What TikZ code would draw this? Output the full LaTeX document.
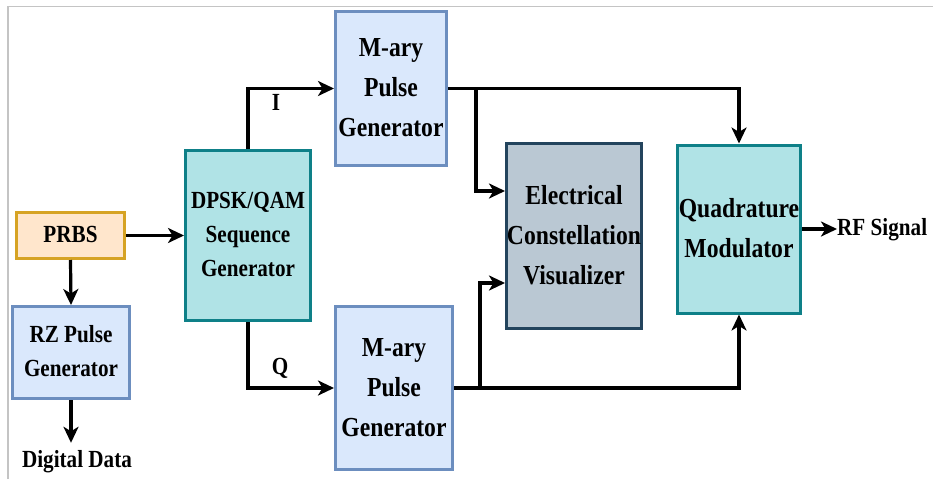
\documentclass[tikz,border=0pt]{standalone}
\usepackage{fontspec}
\usepackage{graphicx}
\setmainfont{Liberation Serif}
\usetikzlibrary{arrows.meta}
\definecolor{orfill}{HTML}{FFE6CC}
\definecolor{ordraw}{HTML}{D6A324}
\definecolor{blfill}{HTML}{DAE8FC}
\definecolor{bldraw}{HTML}{6C8EBF}
\definecolor{tefill}{HTML}{B0E3E6}
\definecolor{tedraw}{HTML}{0E8088}
\definecolor{grfill}{HTML}{BAC8D3}
\definecolor{grdraw}{HTML}{23445D}
\definecolor{framec}{HTML}{C4C4C4}
\newcommand{\sqz}[1]{\scalebox{0.86}[1]{\begin{tabular}{@{}c@{}}#1\end{tabular}}}
\begin{document}
\begin{tikzpicture}[x=1pt,y=-1pt,
  box/.style={draw, line width=3pt, rectangle, align=center, inner sep=0pt},
  bigtext/.style={font=\fontsize{27.5}{40}\selectfont\bfseries},
  smalltext/.style={font=\fontsize{24.6}{34}\selectfont\bfseries},
  arr/.style={line width=3.2pt, -{Stealth[length=16pt,width=15pt,inset=4.5pt]}},
  conn/.style={line width=3pt}]
\useasboundingbox (0,0) rectangle (933,479);
\fill[white] (0,0) rectangle (933,479);
\draw[framec, line width=1.5pt] (8,479) -- (8,6.5) -- (933,6.5);

\node[box, smalltext, fill=orfill, draw=ordraw, minimum width=108pt, minimum height=46pt] (prbs) at (70.5,235.5) {\sqz{PRBS}};
\node[box, smalltext, fill=blfill, draw=bldraw, minimum width=117pt, minimum height=92pt] (rz) at (71,352.5) {\sqz{RZ Pulse\\Generator}};
\node[smalltext, inner sep=1pt] (dd) at (77,461) {\sqz{Digital Data}};
\node[box, smalltext, fill=tefill, draw=tedraw, minimum width=125pt, minimum height=170pt] (dpsk) at (248,235.5) {\sqz{DPSK/QAM\\Sequence\\Generator}};
\node[box, bigtext, fill=blfill, draw=bldraw, minimum width=111pt, minimum height=154pt] (m1) at (391,88.5) {\sqz{M-ary\\Pulse\\Generator}};
\node[box, bigtext, fill=blfill, draw=bldraw, minimum width=117pt, minimum height=163pt] (m2) at (394,388) {\sqz{M-ary\\Pulse\\Generator}};
\node[box, bigtext, fill=grfill, draw=grdraw, minimum width=135pt, minimum height=185pt] (ecv) at (574,236) {\sqz{Electrical\\Constellation\\Visualizer}};
\node[box, bigtext, fill=tefill, draw=tedraw, minimum width=123pt, minimum height=168pt] (qm) at (739,229) {\sqz{Quadrature\\Modulator}};

\node[smalltext, inner sep=0pt] (il) at (276,104) {\sqz{I}};
\node[smalltext, inner sep=0pt] (ql) at (280,368) {\sqz{Q}};

\coordinate (rfend) at (837,229);
\node[smalltext, inner sep=0pt, anchor=west] (rf) at (837,229) {\sqz{RF Signal}};

\coordinate (b1) at (476,88.5);
\coordinate (b2) at (480,388);

\draw[arr] (prbs.east) -- (dpsk.west);
\draw[arr] (prbs.south) -- (rz.north);
\draw[arr] (rz.south) -- (rz.south |- dd.north);
\draw[arr] (dpsk.north) |- (m1.west);
\draw[arr] (dpsk.south) |- (m2.west);
\draw[arr] (m1.east) -| (qm.north);
\draw[arr] (m2.east) -| (qm.south);
\draw[arr] (b1) |- ([yshift=45pt]ecv.west);
\draw[arr] (b2) |- ([yshift=-47pt]ecv.west);
\draw[arr] (qm.east) -- (rfend);
\end{tikzpicture}
\end{document}
